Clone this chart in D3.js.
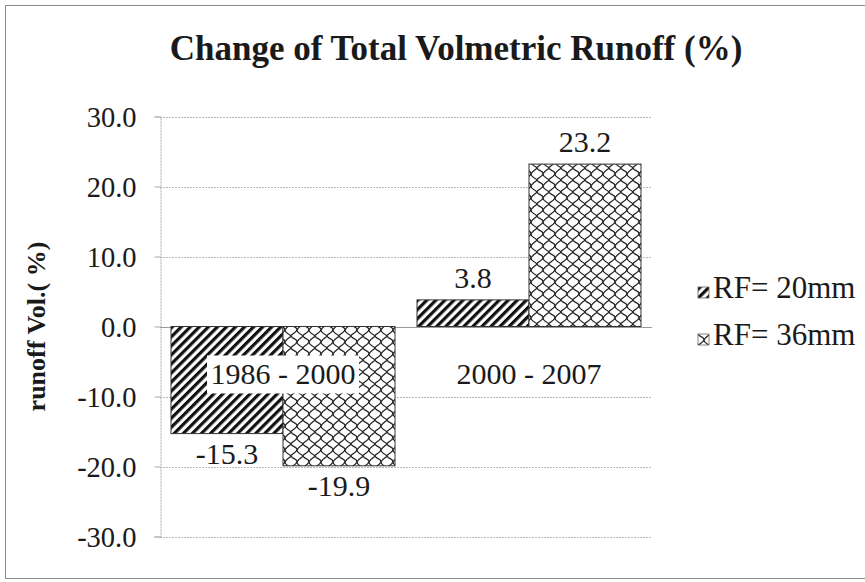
<!DOCTYPE html>
<html>
<head>
<meta charset="utf-8">
<script src="https://cdn.jsdelivr.net/npm/d3@7"></script>
<style>
  html, body { margin: 0; padding: 0; background: #fff; }
  svg { display: block; }
  text { font-family: "Liberation Serif", "Times New Roman", serif; fill: #1a1a1a; }
</style>
</head>
<body>
<svg id="chart" width="865" height="582"></svg>
<script>
// Periods compared and the rainfall scenarios plotted for each
const categories = ["1986 - 2000", "2000 - 2007"];
const seriesNames = ["RF= 20mm", "RF= 36mm"];
const rf20 = [-15.3, 3.8];
const rf36 = [-19.9, 23.2];
const yTicks = [-30, -20, -10, 0, 10, 20, 30];

const svg = d3.select("#chart");
const W = 865;
const plot = { left: 160, right: 652, top: 116.5, bottom: 536.5 };

// Plain hyphen for negatives, one decimal place
const fmt1 = v => d3.format(".1f")(v).replace("\u2212", "-");

// Fill patterns: wide diagonal stripes and a wavy shingle lattice
const defs = svg.append("defs");
const stripes = defs.append("pattern")
  .attr("id", "pat-stripe")
  .attr("patternUnits", "userSpaceOnUse")
  .attr("width", 6.4).attr("height", 6.4)
  .attr("patternTransform", "rotate(45)");
stripes.append("rect").attr("width", 6.4).attr("height", 6.4).attr("fill", "#fff");
stripes.append("rect").attr("width", 3.2).attr("height", 6.4).attr("fill", "#111");

const shingle = defs.append("pattern")
  .attr("id", "pat-shingle")
  .attr("patternUnits", "userSpaceOnUse")
  .attr("width", 12).attr("height", 12);
shingle.append("rect").attr("width", 12).attr("height", 12).attr("fill", "#fff");
shingle.append("path")
  .attr("d", [
    "M-1,-1 C2,4 6,2 6,6 S10,9 13,13",      // wavy "\" strand
    "M-1,13 C1,9 4,10 6,6 S11,2 13,-1",     // wavy "/" strand
    "M11,-1 L13,1 M-1,11 L1,13"             // seam continuation at corners
  ].join(" "))
  .attr("fill", "none").attr("stroke", "#222").attr("stroke-width", 1.3);

const fills = ["url(#pat-stripe)", "url(#pat-shingle)"];

// Chart frame
svg.append("rect")
  .attr("x", 5.5).attr("y", 5.5).attr("width", W + 10).attr("height", 573)
  .attr("fill", "#fff").attr("stroke", "#8a8a8a").attr("stroke-width", 1);

// Scales
const y = d3.scaleLinear().domain([-30, 30]).range([plot.bottom, plot.top]);
const x0 = d3.scaleBand().domain(categories)
  .range([plot.left, plot.right]).paddingInner(0.0894).paddingOuter(0.0447);
const x1 = d3.scaleBand().domain(seriesNames).range([0, x0.bandwidth()]).padding(0);

// Gridlines
svg.append("g").selectAll("line").data(yTicks).join("line")
  .attr("x1", plot.left).attr("x2", plot.right)
  .attr("y1", d => Math.round(y(d)) + 0.5).attr("y2", d => Math.round(y(d)) + 0.5)
  .attr("stroke", d => d === 0 ? "#9a9a9a" : "#b8b8b8")
  .attr("stroke-width", 1)
  .attr("stroke-dasharray", d => d === 0 ? null : "2,1");

// Y axis with outside ticks
const yAxis = d3.axisLeft(y).tickValues(yTicks).tickSize(6).tickPadding(18)
  .tickFormat(fmt1);
const gy = svg.append("g").attr("transform", `translate(${plot.left + 0.5},0)`).call(yAxis);
gy.attr("font-family", null).attr("font-size", null);
gy.select(".domain").attr("stroke", "#a8a8a8").attr("stroke-dasharray", "2,1");
gy.selectAll(".tick line").attr("stroke", "#a8a8a8");
gy.selectAll(".tick text")
  .attr("font-size", 28.5).attr("fill", "#1a1a1a").attr("dy", "0.34em");

// Bars
const rows = categories.map((c, i) => ({ cat: c, vals: [rf20[i], rf36[i]] }));
const groups = svg.append("g").selectAll("g").data(rows).join("g")
  .attr("transform", d => `translate(${x0(d.cat)},0)`);
groups.selectAll("rect").data(d => d.vals.map((v, j) => ({ v, s: seriesNames[j], j })))
  .join("rect")
  .attr("x", d => x1(d.s))
  .attr("width", x1.bandwidth())
  .attr("y", d => y(Math.max(0, d.v)))
  .attr("height", d => Math.abs(y(d.v) - y(0)))
  .attr("fill", d => fills[d.j])
  .attr("stroke", "#333").attr("stroke-width", 1);

// Value labels at the outside end of each bar
groups.selectAll("text.val").data(d => d.vals.map((v, j) => ({ v, s: seriesNames[j] })))
  .join("text").attr("class", "val")
  .attr("x", d => x1(d.s) + x1.bandwidth() / 2)
  .attr("y", d => d.v >= 0 ? y(d.v) - 12 : y(d.v) + 30)
  .attr("text-anchor", "middle").attr("font-size", 30)
  .text(d => fmt1(d.v));

// Category labels sit below the zero line on a white plate
const catG = svg.append("g").selectAll("g").data(categories).join("g")
  .attr("transform", d => `translate(${x0(d) + x0.bandwidth() / 2},${y(0)})`);
catG.append("rect")
  .attr("x", -76).attr("y", 29).attr("width", 152).attr("height", 38)
  .attr("fill", "#fff");
catG.append("text")
  .attr("y", 57).attr("text-anchor", "middle").attr("font-size", 30)
  .text(d => d);

// Title
svg.append("text")
  .attr("x", 456).attr("y", 60).attr("text-anchor", "middle")
  .attr("font-size", 35).attr("font-weight", "bold")
  .text("Change of Total Volmetric Runoff (%)");

// Y axis title
svg.append("text")
  .attr("transform", `translate(45,${y(0)}) rotate(-90)`)
  .attr("text-anchor", "middle").attr("font-size", 26).attr("font-weight", "bold")
  .text("runoff Vol.( %)");

// Legend
const legend = svg.append("g").selectAll("g").data(seriesNames).join("g")
  .attr("transform", (d, i) => `translate(698,${287 + i * 47})`);
legend.append("rect")
  .attr("width", 11).attr("height", 11)
  .attr("fill", (d, i) => fills[i]).attr("stroke", "#666").attr("stroke-width", 0.8);
legend.append("text")
  .attr("x", 15).attr("y", 11).attr("font-size", 31)
  .text(d => d);
</script>
</body>
</html>
